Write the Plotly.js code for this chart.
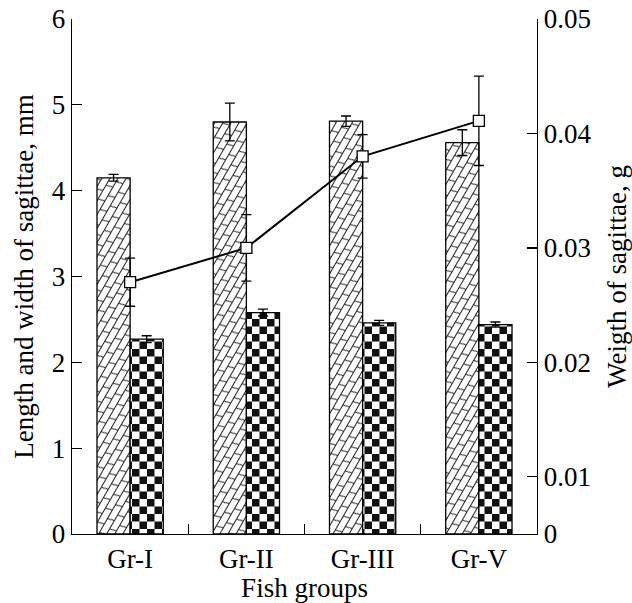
<!DOCTYPE html>
<html>
<head>
<meta charset="utf-8">
<script src="https://cdn.plot.ly/plotly-3.0.1.min.js"></script>
<style>
html,body{margin:0;padding:0;background:#fff;}
#chart{width:632px;height:603px;}
</style>
</head>
<body>
<div id="chart"></div>
<script>
const groups = ['Gr-I', 'Gr-II', 'Gr-III', 'Gr-V'];
const lengthMm = [4.15, 4.80, 4.81, 4.56];
const lengthErr = [0.04, 0.22, 0.06, 0.15];
const widthMm = [2.27, 2.58, 2.46, 2.44];
const widthErr = [0.04, 0.04, 0.03, 0.03];
const weightG = [0.0270, 0.0300, 0.0380, 0.0411];
const weightErr = [0.0021, 0.0029, 0.0019, 0.0039];
const leftTickVals = [0, 1, 2, 3, 4, 5, 6];
const rightTickVals = [0.005, 0.01, 0.02, 0.03, 0.04, 0.05];
const rightTickText = ['0', '0.01', '0.02', '0.03', '0.04', '0.05'];

const FONT = 'Liberation Serif, Times New Roman, serif';
const FS = 27;

const traces = [
  {
    type: 'bar', x: groups, y: lengthMm, name: 'Length',
    marker: {color: '#ffffff', line: {color: '#000', width: 1.3}},
    error_y: {type: 'data', array: lengthErr, visible: true, color: '#000', thickness: 1.3, width: 5},
    offsetgroup: 'a', yaxis: 'y'
  },
  {
    type: 'bar', x: groups, y: widthMm, name: 'Width',
    marker: {color: '#ffffff', line: {color: '#000', width: 1.3}},
    error_y: {type: 'data', array: widthErr, visible: true, color: '#000', thickness: 1.3, width: 5},
    offsetgroup: 'b', yaxis: 'y'
  },
  {
    type: 'scatter', mode: 'lines+markers', x: groups, y: weightG, name: 'Weight',
    yaxis: 'y2',
    line: {color: '#000', width: 2},
    marker: {symbol: 'square', size: 11, color: '#fff', line: {color: '#000', width: 1.3}},
    error_y: {type: 'data', array: weightErr, visible: true, color: '#000', thickness: 1.3, width: 5}
  }
];

const layout = {
  width: 632, height: 603,
  margin: {l: 72, r: 95, t: 19, b: 69},
  paper_bgcolor: '#fff', plot_bgcolor: '#fff',
  showlegend: false,
  barmode: 'group', bargap: 0.43, bargroupgap: 0,
  font: {family: FONT, size: FS, color: '#000'},
  xaxis: {
    type: 'category', range: [-0.5, 3.5],
    showline: true, linecolor: '#000', linewidth: 1.3,
    ticks: 'inside', tickson: 'boundaries', ticklen: 10, tickcolor: '#000', tickwidth: 1.3,
    showgrid: false, zeroline: false,
    tickfont: {family: FONT, size: FS},
    title: {text: 'Fish groups', font: {family: FONT, size: FS}, standoff: 4}
  },
  yaxis: {
    range: [0, 6], tickvals: leftTickVals,
    showline: true, linecolor: '#000', linewidth: 1.3,
    ticks: 'inside', ticklen: 10, tickcolor: '#000', tickwidth: 1.3,
    showgrid: false, zeroline: false,
    tickfont: {family: FONT, size: FS},
    title: {text: 'Length and width of sagittae, mm', font: {family: FONT, size: FS}, standoff: 10}
  },
  yaxis2: {
    overlaying: 'y', side: 'right',
    range: [0.005, 0.05], tickvals: rightTickVals, ticktext: rightTickText,
    showline: true, linecolor: '#000', linewidth: 1.3,
    ticks: 'inside', ticklen: 10, tickcolor: '#000', tickwidth: 1.3,
    showgrid: false, zeroline: false,
    tickfont: {family: FONT, size: FS},
    title: {text: 'Weigth of sagittae, g', font: {family: FONT, size: FS}, standoff: 18}
  }
};

Plotly.newPlot('chart', traces, layout, {displayModeBar: false, staticPlot: true}).then(function (gd) {
  const svgNS = 'http://www.w3.org/2000/svg';
  const svg = gd.querySelector('.main-svg');
  let defs = svg.querySelector('defs');
  if (!defs) { defs = document.createElementNS(svgNS, 'defs'); svg.insertBefore(defs, svg.firstChild); }

  // brick-like diagonal hatch
  const brick = document.createElementNS(svgNS, 'pattern');
  brick.setAttribute('id', 'brickPat');
  brick.setAttribute('patternUnits', 'userSpaceOnUse');
  brick.setAttribute('width', '16');
  brick.setAttribute('height', '14');
  brick.setAttribute('patternTransform', 'rotate(-60)');
  brick.innerHTML = '<rect x="0" y="0" width="16" height="14" fill="#fff"/>' +
    '<path d="M0,0.5 H16 M0,7.5 H16 M1,0.5 L3,7.5 M9,7.5 L11,14.5" stroke="#222" stroke-width="1" fill="none"/>';
  defs.appendChild(brick);

  // checkerboard
  const chk = document.createElementNS(svgNS, 'pattern');
  chk.setAttribute('id', 'checkPat');
  chk.setAttribute('patternUnits', 'userSpaceOnUse');
  chk.setAttribute('width', '15');
  chk.setAttribute('height', '15');
  chk.innerHTML = '<rect x="0" y="0" width="15" height="15" fill="#fff"/>' +
    '<rect x="0" y="0" width="7.5" height="7.5" fill="#111"/>' +
    '<rect x="7.5" y="7.5" width="7.5" height="7.5" fill="#111"/>';
  defs.appendChild(chk);

  const barTraces = gd.querySelectorAll('.barlayer .trace.bars');
  const fills = ['url(#brickPat)', 'url(#checkPat)'];
  barTraces.forEach(function (t, i) {
    t.querySelectorAll('.point path').forEach(function (p) {
      p.style.fill = fills[i] || '#fff';
      p.style.fillOpacity = 1;
    });
  });
});
</script>
</body>
</html>
